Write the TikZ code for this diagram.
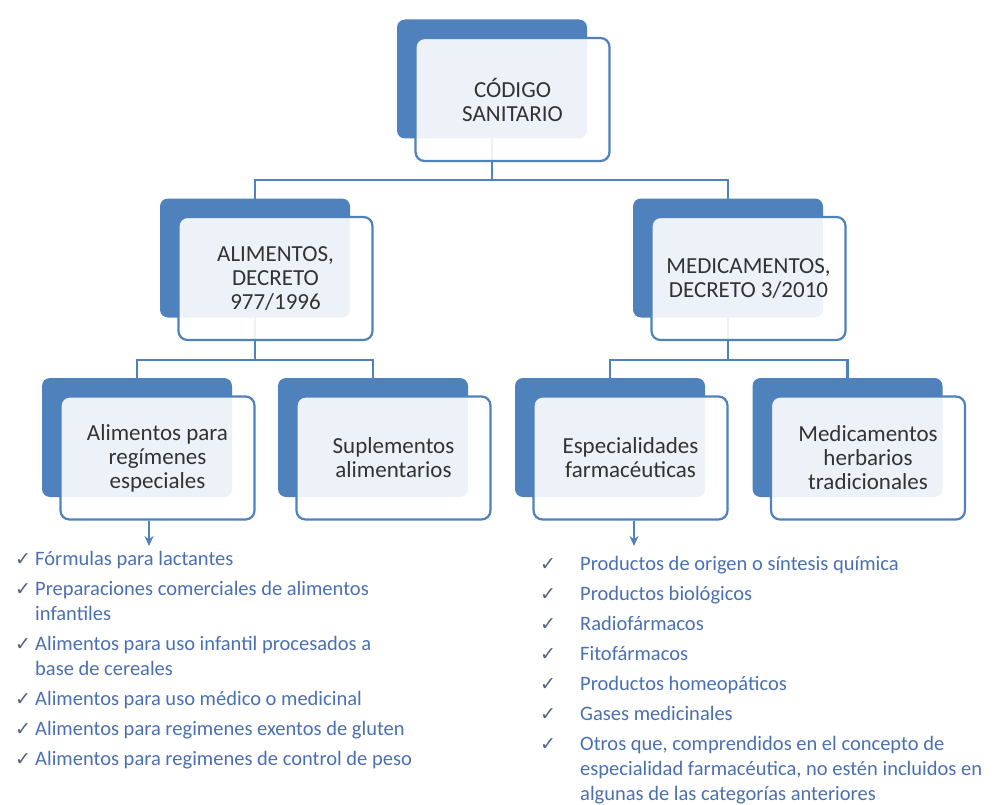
\documentclass[tikz,border=0pt]{standalone}
\usepackage{fontspec}
\setmainfont{Carlito}
\newfontfamily\chkfont{DejaVu Sans}
\usetikzlibrary{arrows.meta,backgrounds,positioning}
\definecolor{boxblue}{RGB}{79,129,189}
\definecolor{listblue}{RGB}{75,112,178}
\definecolor{chkgray}{RGB}{85,98,125}
\newcommand{\chk}{\makebox[13pt][l]{\color{chkgray}\chkfont\fontsize{19}{25}\selectfont ✓}}

\begin{document}
\begin{tikzpicture}[x=1pt, y=-1pt,
    back/.style={fill=boxblue, rounded corners=8pt, minimum width=190pt,
      minimum height=119pt, inner sep=0pt},
    front/.style={draw=boxblue, line width=2.2pt, fill=white, fill opacity=0.9,
      text opacity=1, rounded corners=9pt, minimum width=194pt,
      minimum height=123pt, inner sep=0pt, align=center, text=black!80,
      font=\fontsize{23}{24}\selectfont},
    conn/.style={draw=boxblue, line width=2.6pt},
    arr/.style={conn, -{Stealth[length=10pt,width=9pt]}},
    list/.style={anchor=north west, inner sep=0pt, text=listblue,
      font=\fontsize{20.5}{25}\selectfont}]
    \useasboundingbox (0,0) rectangle (995,805);

    % boxes: dark back panel, light front panel with the text
    \foreach \n/\x/\y/\t in {
        codigo/492/79/{CÓDIGO\\SANITARIO},
        alim/255/258/{ALIMENTOS,\\DECRETO\\977/1996},
        med/728/258/{MEDICAMENTOS,\\DECRETO 3/2010},
        reg/137/437.5/{Alimentos para\\regímenes\\especiales},
        sup/373/437.5/{Suplementos\\alimentarios},
        esp/610/437.5/{Especialidades\\farmacéuticas},
        herb/847.5/437.5/{Medicamentos\\herbarios\\tradicionales}} {
      \node[back] (\n B) at (\x,\y) {};
      \node[front] (\n) at ([shift={(20.5,20.5)}]\n B.center) {\t};
    }

    % tree lines, kept under the panels
    \coordinate (topbar) at (492,180);
    \coordinate (leftbar) at (255,360);
    \coordinate (rightbar) at (728,360);
    \begin{scope}[on background layer]
      \fill[white] (0,0) rectangle (995,805);
      \draw[conn] (codigoB.center) -- (topbar);
      \draw[conn] (alimB.center) |- (topbar) -| (medB.center);
      \draw[conn] (alimB.center) -- (leftbar);
      \draw[conn] (regB.center) |- (leftbar) -| (supB.center);
      \draw[conn] (medB.center) -- (rightbar);
      \draw[conn] (espB.center) |- (rightbar) -| (herbB.center);
    \end{scope}

    % lists
    \node[list] (reglist) at (15,547.3) {%
      \begin{tabular}{@{}l@{\hspace{7pt}}l@{}}
        \chk & Fórmulas para lactantes\\[5pt]
        \chk & Preparaciones comerciales de alimentos\\
             & infantiles\\[5pt]
        \chk & Alimentos para uso infantil procesados a\\
             & base de cereales\\[5pt]
        \chk & Alimentos para uso médico o medicinal\\[5pt]
        \chk & Alimentos para regimenes exentos de gluten\\[5pt]
        \chk & Alimentos para regimenes de control de peso
      \end{tabular}};
    \node[list] (esplist) at (540,552.3) {%
      \begin{tabular}{@{}l@{\hspace{27pt}}l@{}}
        \chk & Productos de origen o síntesis química\\[5pt]
        \chk & Productos biológicos\\[5pt]
        \chk & Radiofármacos\\[5pt]
        \chk & Fitofármacos\\[5pt]
        \chk & Productos homeopáticos\\[5pt]
        \chk & Gases medicinales\\[5pt]
        \chk & Otros que, comprendidos en el concepto de\\
             & especialidad farmacéutica, no estén incluidos en\\
             & algunas de las categorías anteriores
      \end{tabular}};

    % arrows down to the lists
    \coordinate (regtip) at (149,546);
    \coordinate (esptip) at (634,546);
    \draw[arr] (regtip |- reg.south) -- (regtip);
    \draw[arr] (esptip |- esp.south) -- (esptip);
\end{tikzpicture}
\end{document}
